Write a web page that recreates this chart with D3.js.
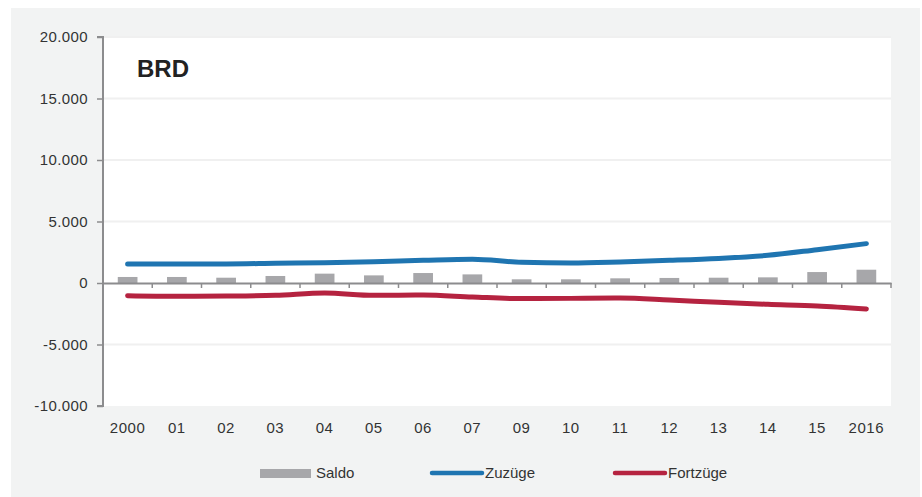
<!DOCTYPE html>
<html><head><meta charset="utf-8">
<script src="https://cdn.jsdelivr.net/npm/d3@7"></script>
<style>
html,body{margin:0;padding:0;background:#fff;}
svg{display:block;font-family:"Liberation Sans",Arial,sans-serif;}
</style></head>
<body>
<svg id="chart" width="922" height="497"></svg>
<script>
const categories = ["2000","01","02","03","04","05","06","07","09","10","11","12","13","14","15","2016"];
const saldo    = [490, 490, 430, 570, 760, 620, 810, 700, 300, 300, 380, 410, 430, 460, 890, 1080];
const zuzuege  = [1545, 1545, 1550, 1600, 1650, 1730, 1840, 1925, 1680, 1625, 1710, 1840, 2000, 2250, 2710, 3200];
const fortzuege= [-1030, -1080, -1060, -1000, -810, -1000, -980, -1140, -1270, -1250, -1220, -1380, -1570, -1730, -1870, -2110];
const yTicks = [-10000, -5000, 0, 5000, 10000, 15000, 20000];
const title = "BRD";
const legendItems = [{name:"Saldo", type:"bar"},{name:"Zuzüge", type:"line", color:"#1f75b1"},{name:"Fortzüge", type:"line", color:"#b52340"}];

const svg = d3.select("#chart");
const L = 103, R = 891, T = 37, B = 406;
const fmt = d => d3.format(",")(d).replace(/,/g, ".").replace("−","-");

svg.append("rect").attr("x",11).attr("y",8).attr("width",909).attr("height",489).attr("fill","#f2f3f3");
svg.append("rect").attr("x",L).attr("y",T).attr("width",R-L).attr("height",B-T).attr("fill","#ffffff");

const x = d3.scaleBand().domain(categories).range([L,R]).paddingInner(0).paddingOuter(0);
const y = d3.scaleLinear().domain([-10000,20000]).range([B,T]);

// gridlines
svg.append("g").selectAll("line").data(yTicks.filter(t=>t!==0 && t!==-10000)).join("line")
  .attr("x1",L).attr("x2",R).attr("y1",d=>y(d)).attr("y2",d=>y(d))
  .attr("stroke","#f0f0f0").attr("stroke-width",2);

// y axis
const yAxis = d3.axisLeft(y).tickValues(yTicks).tickFormat(fmt).tickSize(6).tickPadding(9);
const gy = svg.append("g").attr("transform",`translate(${L},0)`).call(yAxis);
gy.select(".domain").attr("stroke","#8c8c8e").attr("stroke-width",2).attr("d",`M-6,${B}H0V${T}H-6`);
gy.selectAll(".tick line").attr("stroke","#8c8c8e").attr("stroke-width",1.5);
gy.selectAll(".tick text").attr("fill","#333").style("font-size","15px").style("letter-spacing","0.4px");

// bars
const bw = x.bandwidth()*0.4;
svg.append("g").selectAll("rect").data(saldo).join("rect")
  .attr("x",(d,i)=>x(categories[i])+x.bandwidth()/2-bw/2)
  .attr("y",d=>y(Math.max(0,d))).attr("width",bw)
  .attr("height",d=>Math.abs(y(d)-y(0))).attr("fill","#a7a7aa");

// x axis at zero
const xAxis = d3.axisBottom(x).tickSize(0).tickFormat("");
const gx = svg.append("g").attr("transform",`translate(0,${y(0)})`).call(xAxis);
gx.select(".domain").attr("stroke","#8c8c8e").attr("stroke-width",2);
gx.selectAll(".tick").remove();
const bounds = categories.slice(1).map(c=>x(c)).concat([R]);
gx.selectAll("line.bt").data(bounds).join("line").attr("class","bt")
  .attr("x1",d=>d).attr("x2",d=>d).attr("y1",0).attr("y2",5)
  .attr("stroke","#8c8c8e").attr("stroke-width",1.5);

// x labels at bottom
svg.append("g").selectAll("text").data(categories).join("text")
  .attr("x",d=>x(d)+x.bandwidth()/2).attr("y",433)
  .attr("text-anchor","middle").attr("fill","#333").style("font-size","15px").style("letter-spacing","0.6px")
  .text(d=>d);

// lines
const line = d3.line().x((d,i)=>x(categories[i])+x.bandwidth()/2).y(d=>y(d)).curve(d3.curveMonotoneX);
svg.append("path").datum(fortzuege).attr("d",line).attr("fill","none")
  .attr("stroke","#b52340").attr("stroke-width",5).attr("stroke-linecap","round").attr("stroke-linejoin","round");
svg.append("path").datum(zuzuege).attr("d",line).attr("fill","none")
  .attr("stroke","#1f75b1").attr("stroke-width",5).attr("stroke-linecap","round").attr("stroke-linejoin","round");

// title
svg.append("text").attr("x",137).attr("y",77).attr("fill","#222").style("font-size","24px").style("font-weight","bold").text(title);

// legend
const lg = svg.append("g");
const lx = [260, 430, 613];
legendItems.forEach((it,i)=>{
  if(it.type==="bar"){
    lg.append("rect").attr("x",lx[i]).attr("y",469).attr("width",51).attr("height",9).attr("fill","#a7a7aa");
    lg.append("text").attr("x",lx[i]+56).attr("y",478).attr("fill","#333").style("font-size","15px").text(it.name);
  } else {
    lg.append("line").attr("x1",lx[i]+2).attr("x2",lx[i]+52).attr("y1",473).attr("y2",473)
      .attr("stroke",it.color).attr("stroke-width",4.5).attr("stroke-linecap","round");
    lg.append("text").attr("x",lx[i]+55).attr("y",478).attr("fill","#333").style("font-size","15px").text(it.name);
  }
});
</script>
</body></html>
